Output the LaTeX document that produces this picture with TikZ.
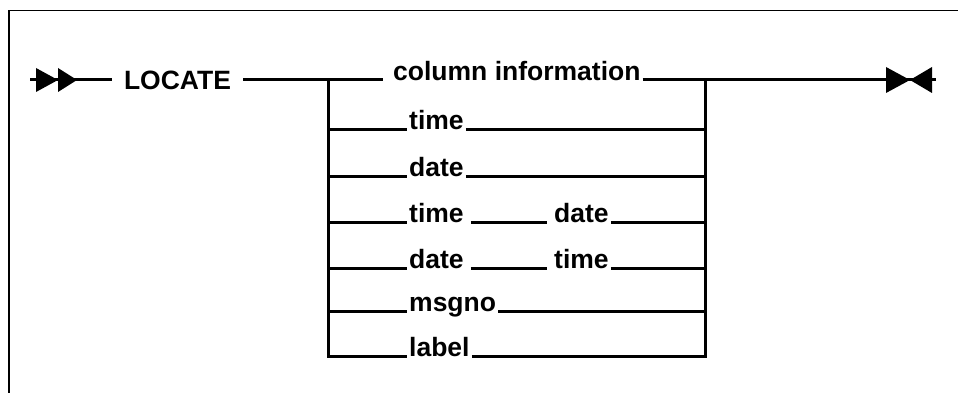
\documentclass[tikz,border=0pt]{standalone}
\usepackage{fontspec}
\setmainfont{Liberation Sans}

\tikzset{
  rail/.style={line width=3pt},
  word/.style={font=\bfseries\fontsize{26.5}{30}\selectfont, inner xsep=2pt, inner ysep=0pt, anchor=base west},
  head/.style={fill=black, draw=none}
}

\begin{document}
\begin{tikzpicture}[x=1pt, y=-1pt]
        \useasboundingbox (0, 0) rectangle (958, 393);
        % frame
        \draw[line width=1.4pt] (9, 393) -- (9, 10.7) -- (958, 10.7);
        \draw[line width=2pt] (9, 10.7) -- (9, 393);

        % junction points
        \coordinate (start) at (30, 80);
        \coordinate (stop) at (936, 80);
        \coordinate (jl) at (328, 80);
        \coordinate (jr) at (705, 80);
        \coordinate (bl) at (328, 356);
        \coordinate (br) at (705, 356);

        % keyword and choices
        \node (locate) at (177.5, 80) [word, anchor=center, inner xsep=12pt] {LOCATE};
        \node (ci) at (391, 81) [word] {column information};
        \node (tm) at (407, 130) [word] {time};
        \node (dt) at (407, 176) [word] {date};
        \node (tdA) at (407, 222) [word] {time};
        \node (tdB) at (552, 222) [word] {date};
        \node (dtA) at (407, 268) [word] {date};
        \node (dtB) at (552, 268) [word] {time};
        \node (msg) at (407, 311) [word] {msgno};
        \node (lab) at (407, 356) [word] {label};

        % main line
        \draw[rail] (start) -- (locate.west);
        \draw[rail] (locate.east) -- ([xshift=-8pt]ci.west |- start);
        \draw[rail] (ci.east |- stop) -- (stop);

        % left and right bars
        \draw[rail] (jl) -- (bl) -- (lab.base west);
        \draw[rail] (lab.base east) -- (br) -- (jr);

        % the other rows
        \draw[rail] (jl |- tm.base) -- (tm.base west);
        \draw[rail] (tm.base east) -- (jr |- tm.base);
        \draw[rail] (jl |- dt.base) -- (dt.base west);
        \draw[rail] (dt.base east) -- (jr |- dt.base);
        \draw[rail] (jl |- tdA.base) -- (tdA.base west);
        \draw[rail, shorten <=5pt, shorten >=5pt] (tdA.base east) -- (tdB.base west);
        \draw[rail] (tdB.base east) -- (jr |- tdB.base);
        \draw[rail] (jl |- dtA.base) -- (dtA.base west);
        \draw[rail, shorten <=5pt, shorten >=5pt] (dtA.base east) -- (dtB.base west);
        \draw[rail] (dtB.base east) -- (jr |- dtB.base);
        \draw[rail] (jl |- msg.base) -- (msg.base west);
        \draw[rail] (msg.base east) -- (jr |- msg.base);

        % start and end marks
        \fill[head] ([xshift=6pt, yshift=12pt]start) -- ([xshift=6pt, yshift=-12pt]start) -- ([xshift=28pt]start) -- cycle;
        \fill[head] ([xshift=28pt, yshift=12pt]start) -- ([xshift=28pt, yshift=-12pt]start) -- ([xshift=47pt]start) -- cycle;
        \fill[head] ([xshift=-50pt, yshift=13pt]stop) -- ([xshift=-50pt, yshift=-13pt]stop) -- ([xshift=-26pt]stop) -- cycle;
        \fill[head] ([xshift=-4pt, yshift=13pt]stop) -- ([xshift=-4pt, yshift=-13pt]stop) -- ([xshift=-26pt]stop) -- cycle;
\end{tikzpicture}
\end{document}
